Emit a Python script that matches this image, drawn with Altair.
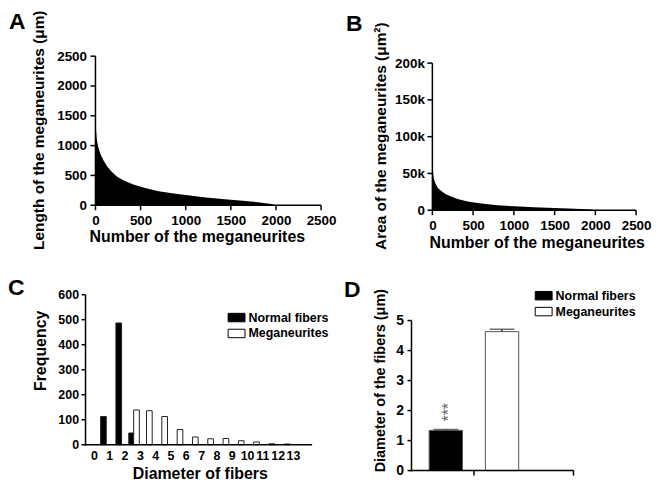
import altair as alt
import pandas as pd

FONT = "Liberation Sans"

panel_letters = ["A", "B", "C", "D"]

# Panel A: sorted lengths of the meganeurites (rank -> length in um)
rank_a = [0, 1, 3, 7, 15, 30, 55, 90, 130, 180, 240, 320, 420, 550, 700, 850,
          1000, 1200, 1400, 1600, 1800, 1950, 2000]
length_a = [2450, 2000, 1500, 1250, 1100, 980, 860, 750, 650, 560, 480, 410, 350,
            290, 235, 200, 170, 135, 105, 80, 50, 20, 0]
ticks_a = [0, 500, 1000, 1500, 2000, 2500]

# Panel B: sorted areas of the meganeurites (rank -> area in um^2)
rank_b = [0, 2, 5, 10, 20, 40, 70, 110, 160, 230, 320, 450, 600, 800, 1000, 1250,
          1500, 1750, 1950, 2000]
area_b = [110000, 80000, 60000, 50000, 42000, 36000, 30000, 26000, 22000, 18500,
          15000, 11500, 9000, 6800, 5300, 4000, 3000, 2000, 1000, 0]
ticks_b_y = [0, 50000, 100000, 150000, 200000]

# Panel C: diameter histogram
diameter_bins = list(range(14))
normal_freq = [113, 487, 47, 0, 0, 0, 0, 0, 0, 0, 0, 0, 0, 0]
mega_freq = [0, 0, 139, 136, 113, 61, 31, 24, 25, 16, 11, 4, 3, 0]
ticks_c_y = [0, 100, 200, 300, 400, 500, 600]

# Panel D: mean diameter +/- SEM
series_names = ["Normal fibers", "Meganeurites"]
mean_diameter = [1.34, 4.63]
sem_diameter = [0.03, 0.08]
significance = ["***", ""]
ticks_d_y = [0, 1, 2, 3, 4, 5]

SYMBOL = "M-1,-0.5H1V0.5H-1Z"
LW = 1.5

# text-only axes; the axis lines and tick marks are drawn as rect marks
AX = dict(domain=False, ticks=False, tickSize=0, labelOverlap=False, labelFlush=False,
          grid=False)


def letter(ch, x, y):
    return alt.Chart(pd.DataFrame({"letter": [ch]})).mark_text(
        font=FONT, fontWeight="bold", fontSize=23, align="left",
        baseline="alphabetic", color="black"
    ).encode(text="letter:N", x=alt.value(x), y=alt.value(y))


def legend(x, y):
    return alt.Legend(
        orient="none", legendX=x, legendY=y, title=None, padding=0,
        symbolType=SYMBOL, symbolSize=289, symbolStrokeColor="black",
        symbolStrokeWidth=1, labelFont=FONT, labelFontWeight="bold",
        labelFontSize=12.5, labelColor="black", labelOffset=3, rowPadding=0,
    )


def rect_layer(df, xs, xa, ys, ya):
    return alt.Chart(df).mark_bar(color="black").encode(
        x=alt.X("a:Q", scale=xs, axis=xa), x2="b:Q",
        y=alt.Y("c:Q", scale=ys, axis=ya), y2="d:Q")


def axis_frame(xs, xa, ys, ya, xdom, xrng, ydom, yrng, x_ticks, y_ticks,
               x_tick=5, y_tick=5):
    ux = (xdom[1] - xdom[0]) / abs(xrng[1] - xrng[0])
    uy = (ydom[1] - ydom[0]) / abs(yrng[0] - yrng[1])
    x0, y0 = xdom[0], ydom[0]
    h = LW / 2
    layers = [
        # vertical axis line
        rect_layer(pd.DataFrame({"a": [x0 - h * ux], "b": [x0 + h * ux],
                                 "c": [y0 - h * uy], "d": [ydom[1]]}), xs, xa, ys, ya),
        # horizontal axis line
        rect_layer(pd.DataFrame({"a": [x0 - h * ux], "b": [xdom[1]],
                                 "c": [y0 - h * uy], "d": [y0 + h * uy]}), xs, xa, ys, ya),
    ]
    if y_ticks:
        layers.append(rect_layer(pd.DataFrame({
            "a": [x0 - y_tick * ux] * len(y_ticks), "b": [x0] * len(y_ticks),
            "c": [v - h * uy for v in y_ticks], "d": [v + h * uy for v in y_ticks]}),
            xs, xa, ys, ya))
    if x_ticks:
        layers.append(rect_layer(pd.DataFrame({
            "a": [v - h * ux for v in x_ticks], "b": [v + h * ux for v in x_ticks],
            "c": [y0 - x_tick * uy] * len(x_ticks), "d": [y0] * len(x_ticks)}),
            xs, xa, ys, ya))
    return layers


# ---------------- Panel A ----------------
A_xdom, A_xrng, A_ydom, A_yrng = [0, 2500], [10, 237], [0, 2500], [150, 0]
xsA = alt.Scale(domain=A_xdom, range=A_xrng, nice=False, zero=False)
xaA = alt.Axis(values=ticks_a, format="d", offset=-5, labelPadding=8,
               labelFontSize=13.5, title="Number of the meganeurites", titleFontSize=16,
               titleX=112, titleY=31, titleBaseline="middle", titleAlign="center", **AX)
ysA = alt.Scale(domain=A_ydom, range=A_yrng, nice=False)
yaA = alt.Axis(values=ticks_a, format="d", offset=-10, labelPadding=9,
               labelFontSize=13.5, title="Length of the meganeurites (μm)",
               titleFontSize=15.5, titleX=-57, titleY=74, titleBaseline="middle",
               titleAlign="center", titleAngle=270, **AX)
dfA = pd.DataFrame({"rank": rank_a, "length": length_a})
A_area = alt.Chart(dfA).mark_area(color="black", interpolate="linear").encode(
    x=alt.X("rank:Q", scale=xsA, axis=xaA),
    y=alt.Y("length:Q", scale=ysA, axis=yaA),
)
A = alt.layer(
    A_area,
    *axis_frame(xsA, xaA, ysA, yaA, A_xdom, A_xrng, A_ydom, A_yrng, ticks_a, ticks_a),
    letter(panel_letters[0], -77, -27),
).properties(width=237, height=155)

# ---------------- Panel B ----------------
B_xdom, B_xrng, B_ydom, B_yrng = [0, 2500], [21, 226], [0, 200000], [155, 7]
xsB = alt.Scale(domain=B_xdom, range=B_xrng, nice=False, zero=False)
xaB = alt.Axis(values=ticks_a, format="d", offset=0, labelPadding=8,
               labelFontSize=13.5, title="Number of the meganeurites", titleFontSize=16,
               titleX=126, titleY=33, titleBaseline="middle", titleAlign="center", **AX)
ysB = alt.Scale(domain=B_ydom, range=B_yrng, nice=False)
yaB = alt.Axis(values=ticks_b_y, offset=-21, labelPadding=8, labelFontSize=13.5,
               labelExpr="datum.value == 0 ? '0' : (datum.value / 1000) + 'k'",
               title="Area of the meganeurites (μm²)", titleFontSize=15.5,
               titleX=-52, titleY=80, titleBaseline="middle",
               titleAlign="center", titleAngle=270, **AX)
dfB = pd.DataFrame({"rank_b": rank_b, "area": area_b})
B_area = alt.Chart(dfB).mark_area(color="black", interpolate="linear").encode(
    x=alt.X("rank_b:Q", scale=xsB, axis=xaB),
    y=alt.Y("area:Q", scale=ysB, axis=yaB),
)
B = alt.layer(
    B_area,
    *axis_frame(xsB, xaB, ysB, yaB, B_xdom, B_xrng, B_ydom, B_yrng, ticks_a, ticks_b_y),
    letter(panel_letters[1], -66, -25),
).properties(width=226, height=155)

# ---------------- Panel C ----------------
C_xdom, C_xrng, C_ydom, C_yrng = [-0.55, 14.25], [0, 228], [0, 600], [151, 0]
xsC = alt.Scale(domain=C_xdom, range=C_xrng, nice=False, zero=False)
xaC = alt.Axis(values=diameter_bins, format="d", offset=-26, labelPadding=5,
               labelFontSize=12.5, title="Diameter of fibers", titleFontSize=16,
               titleX=115, titleY=29, titleBaseline="middle", titleAlign="center", **AX)
ysC = alt.Scale(domain=C_ydom, range=C_yrng, nice=False)
yaC = alt.Axis(values=ticks_c_y, format="d", labelPadding=7,
               labelFontSize=12.5, title="Frequency", titleFontSize=16,
               titleX=-45, titleY=56, titleBaseline="middle", titleAlign="center",
               titleAngle=270, **AX)

rows = []
for b, n, m in zip(diameter_bins, normal_freq, mega_freq):
    rows.append({"bin": b, "series": series_names[0], "freq": n})
    rows.append({"bin": b, "series": series_names[1], "freq": m})
dfC = pd.DataFrame(rows)

C_bars = alt.Chart(dfC).transform_filter("datum.freq > 0").transform_joinaggregate(
    n="count()", groupby=["bin"]
).transform_calculate(
    center="datum.bin + 0.62 + (datum.n > 1 ? (datum.series == 'Normal fibers' ? -0.16 : 0.16) : 0)"
).transform_calculate(
    x_lo="datum.center - 0.185", x_hi="datum.center + 0.185"
).mark_bar(stroke="#222", strokeWidth=1).encode(
    x=alt.X("x_lo:Q", scale=xsC, axis=xaC),
    x2="x_hi:Q",
    y=alt.Y("freq:Q", scale=ysC, axis=yaC),
    y2=alt.datum(0),
    fill=alt.Fill("series:N", scale=alt.Scale(domain=series_names, range=["black", "white"]),
                  legend=legend(143, 14)),
)
C = alt.layer(
    C_bars,
    *axis_frame(xsC, xaC, ysC, yaC, C_xdom, C_xrng, C_ydom, C_yrng, [], ticks_c_y, y_tick=4),
    letter(panel_letters[2], -78, 0),
).properties(width=237, height=177)

# ---------------- Panel D ----------------
D_xdom, D_xrng, D_ydom, D_yrng = [0, 1], [0, 163], [0, 5], [177, 26]
uxD = (D_xdom[1] - D_xdom[0]) / (D_xrng[1] - D_xrng[0])
uyD = (D_ydom[1] - D_ydom[0]) / (D_yrng[0] - D_yrng[1])
xsD = alt.Scale(domain=D_xdom, range=D_xrng, nice=False, zero=False)
xaD = alt.Axis(labels=False, values=[], title=None, **AX)
ysD = alt.Scale(domain=D_ydom, range=D_yrng, nice=False)
yaD = alt.Axis(values=ticks_d_y, format="d", labelPadding=8,
               labelFontSize=14, title="Diameter of the fibers (μm)",
               titleFontSize=14.5, titleX=-31, titleY=86,
               titleBaseline="middle", titleAlign="center", titleAngle=270, **AX)

dfD = pd.DataFrame({"series": series_names, "mean": mean_diameter,
                    "sem": sem_diameter, "sig": significance})
# bars sit side by side in one group: width 0.206, step 0.347 of the axis span
baseD = alt.Chart(dfD).transform_window(idx="row_number()").transform_calculate(
    upper="datum.mean + datum.sem",
    x_lo="0.109 + (datum.idx - 1) * 0.347",
).transform_calculate(
    x_hi="datum.x_lo + 0.206", x_mid="datum.x_lo + 0.103"
)

D_bars = baseD.mark_bar(stroke="#555", strokeWidth=1).encode(
    x=alt.X("x_lo:Q", scale=xsD, axis=xaD), x2="x_hi:Q",
    y=alt.Y("mean:Q", scale=ysD, axis=yaD), y2=alt.datum(0),
    fill=alt.Fill("series:N", scale=alt.Scale(domain=series_names, range=["black", "white"]),
                  legend=legend(124, -8)),
)
D_err = baseD.transform_calculate(
    a=f"datum.x_mid - {0.75 * uxD}", b=f"datum.x_mid + {0.75 * uxD}"
).mark_bar(color="#333").encode(
    x=alt.X("a:Q", scale=xsD, axis=xaD), x2="b:Q",
    y=alt.Y("mean:Q", scale=ysD, axis=yaD), y2="upper:Q")
D_cap = baseD.mark_tick(orient="horizontal", size=25, thickness=1.5, color="#333").encode(
    x=alt.X("x_mid:Q", scale=xsD, axis=xaD),
    y=alt.Y("upper:Q", scale=ysD, axis=yaD))
D_sig = baseD.transform_filter("datum.sig != ''").mark_text(
    angle=270, align="left", baseline="middle", fontSize=16, font=FONT,
    color="#666", dx=8, dy=3
).encode(x=alt.X("x_mid:Q", scale=xsD, axis=xaD),
         y=alt.Y("upper:Q", scale=ysD, axis=yaD), text="sig:N")
# group tick at the middle of the two bars
D_gtick = baseD.transform_aggregate(g="mean(x_mid)").transform_calculate(
    a=f"datum.g - {0.75 * uxD}", b=f"datum.g + {0.75 * uxD}",
    c=f"{-5 * uyD}", d="0",
).mark_bar(color="black").encode(
    x=alt.X("a:Q", scale=xsD, axis=xaD), x2="b:Q",
    y=alt.Y("c:Q", scale=ysD, axis=yaD), y2="d:Q")

D = alt.layer(
    D_bars, D_err, D_cap, D_sig, D_gtick,
    *axis_frame(xsD, xaD, ysD, yaD, D_xdom, D_xrng, D_ydom, D_yrng, [1], ticks_d_y,
                y_tick=4),
    letter(panel_letters[3], -68, 2),
).properties(width=163, height=177)

chart = alt.concat(
    A, B, C, D, columns=2, spacing={"row": 85, "column": 91},
    bounds="flush", align="each"
).resolve_scale(
    fill="independent"
).resolve_legend(
    fill="independent"
).configure_view(
    stroke=None
).configure_axis(
    labelFont=FONT, labelFontWeight="bold", labelColor="black",
    titleFont=FONT, titleFontWeight="bold", titleColor="black",
).properties(
    padding={"left": 0, "top": 0, "right": 0, "bottom": 0}
)

chart.save("out.html", embed_options={"renderer": "svg", "actions": False})
